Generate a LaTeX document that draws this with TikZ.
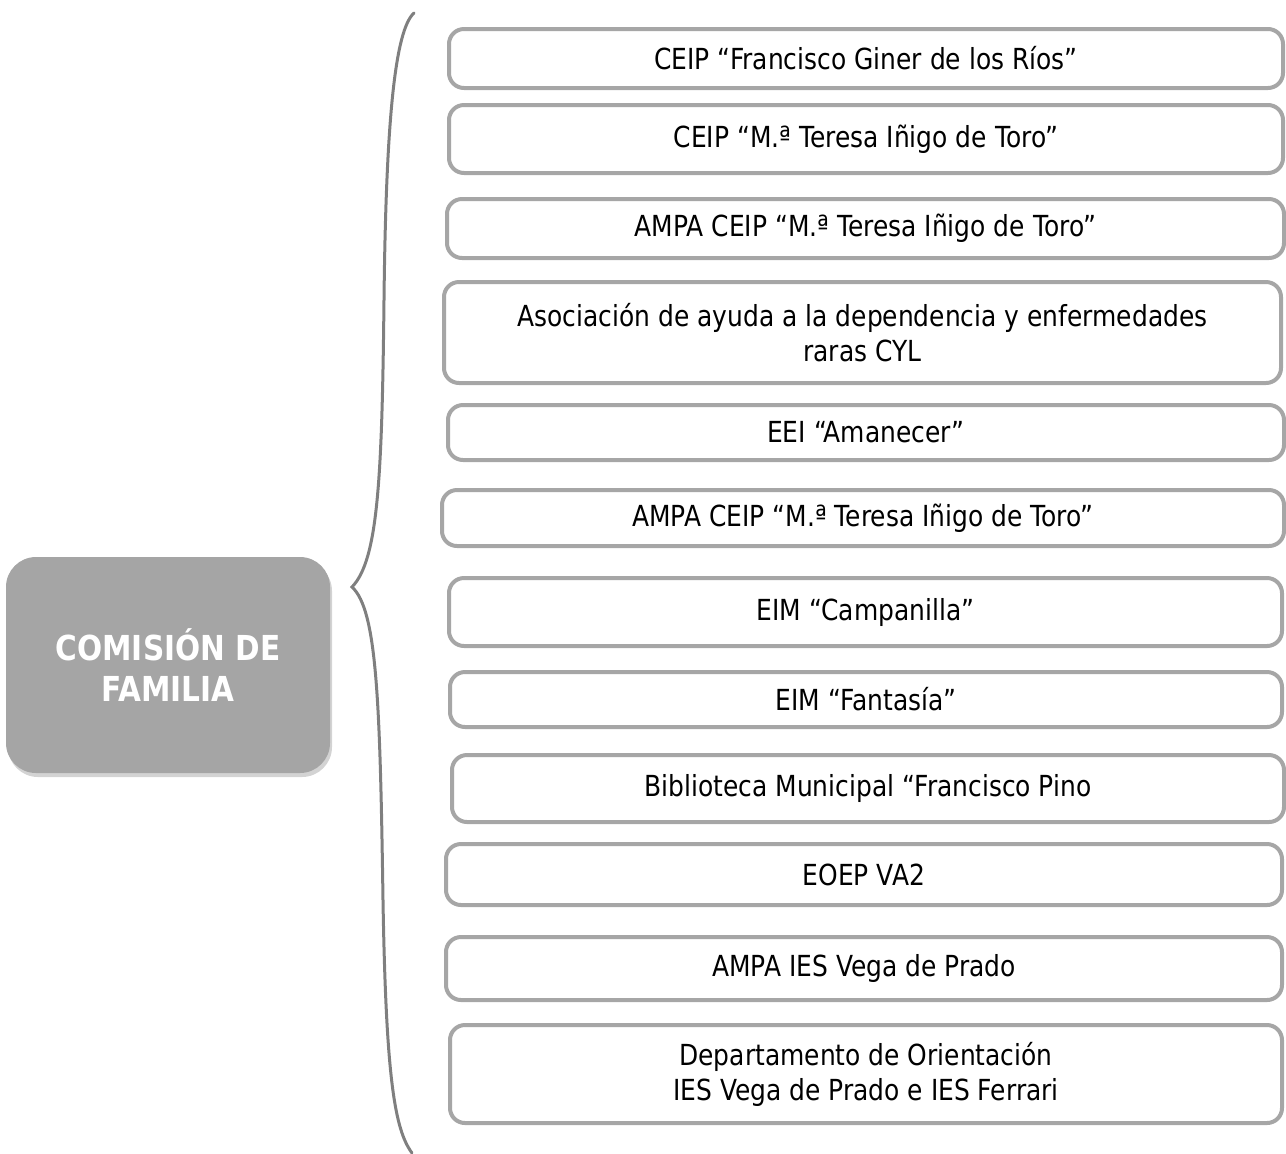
\documentclass[tikz,border=0pt]{standalone}
\usepackage{fontspec}
\setmainfont{DejaVu Sans}[FakeStretch=0.86]
\usetikzlibrary{shadows}
\definecolor{boxgray}{HTML}{A6A6A6}
\definecolor{bracegray}{HTML}{7F7F7F}
\definecolor{headgray}{HTML}{A5A5A5}

\begin{document}
\begin{tikzpicture}[x=0.5pt,y=-0.5pt,
	entity/.style={rectangle,draw=boxgray,line width=2pt,rounded corners=7.5pt,
		fill=white,align=center,inner sep=0pt,font=\fontsize{14.5}{17.5}\selectfont},
	head/.style={rectangle,fill=headgray,rounded corners=15pt,align=center,
		text=white,font=\fontsize{17.2}{20.5}\selectfont\bfseries,
		drop shadow={opacity=0.35,shadow xshift=1pt,shadow yshift=-2pt}}]
\useasboundingbox (0,0) rectangle (1286,1153);
%% Comision
\node [head,minimum width=162pt,minimum height=108pt] (com) at (168,665) {COMISIÓN DE\\FAMILIA};
%% Brace
\draw [bracegray,line width=1.5pt,line cap=round]
	(414,13) .. controls (395,30) and (386,120) .. (384,300)
	.. controls (382,480) and (378,560) .. (352,587)
	.. controls (377,610) and (380,700) .. (383,900)
	.. controls (386,1080) and (395,1130) .. (412,1153);
%% Members
\node [entity,minimum width=417pt,minimum height=29.5pt] (ceipfg) at (866,58.5) {CEIP “Francisco Giner de los Ríos”};
\node [entity,minimum width=417pt,minimum height=34pt] (ceipmt) at (866,139) {CEIP “M.ª Teresa Iñigo de Toro”};
\node [entity,minimum width=418.5pt,minimum height=29.5pt] (ampa1) at (865.5,228.5) {AMPA CEIP “M.ª Teresa Iñigo de Toro”};
\node [entity,minimum width=418.5pt,minimum height=50.5pt] (asoc) at (862.5,332.5) {Asociación de ayuda a la dependencia y enfermedades\\raras CYL};
\node [entity,minimum width=418pt,minimum height=27.5pt] (eei) at (866,432.5) {EEI “Amanecer”};
\node [entity,minimum width=421pt,minimum height=28pt] (ampa2) at (863,518) {AMPA CEIP “M.ª Teresa Iñigo de Toro”};
\node [entity,minimum width=416.5pt,minimum height=34pt] (eimc) at (865.5,612) {EIM “Campanilla”};
\node [entity,minimum width=416pt,minimum height=27.5pt] (eimf) at (866,699.5) {EIM “Fantasía”};
\node [entity,minimum width=416pt,minimum height=33.5pt] (bib) at (868,788.5) {Biblioteca Municipal “Francisco Pino};
\node [entity,minimum width=418pt,minimum height=30.5pt] (eoep) at (864,874.5) {EOEP VA2};
\node [entity,minimum width=418pt,minimum height=31.5pt] (ampa3) at (864,968.5) {AMPA IES Vega de Prado};
\node [entity,minimum width=416pt,minimum height=49pt] (dept) at (866,1074) {Departamento de Orientación\\IES Vega de Prado e IES Ferrari};
\end{tikzpicture}
\end{document}
